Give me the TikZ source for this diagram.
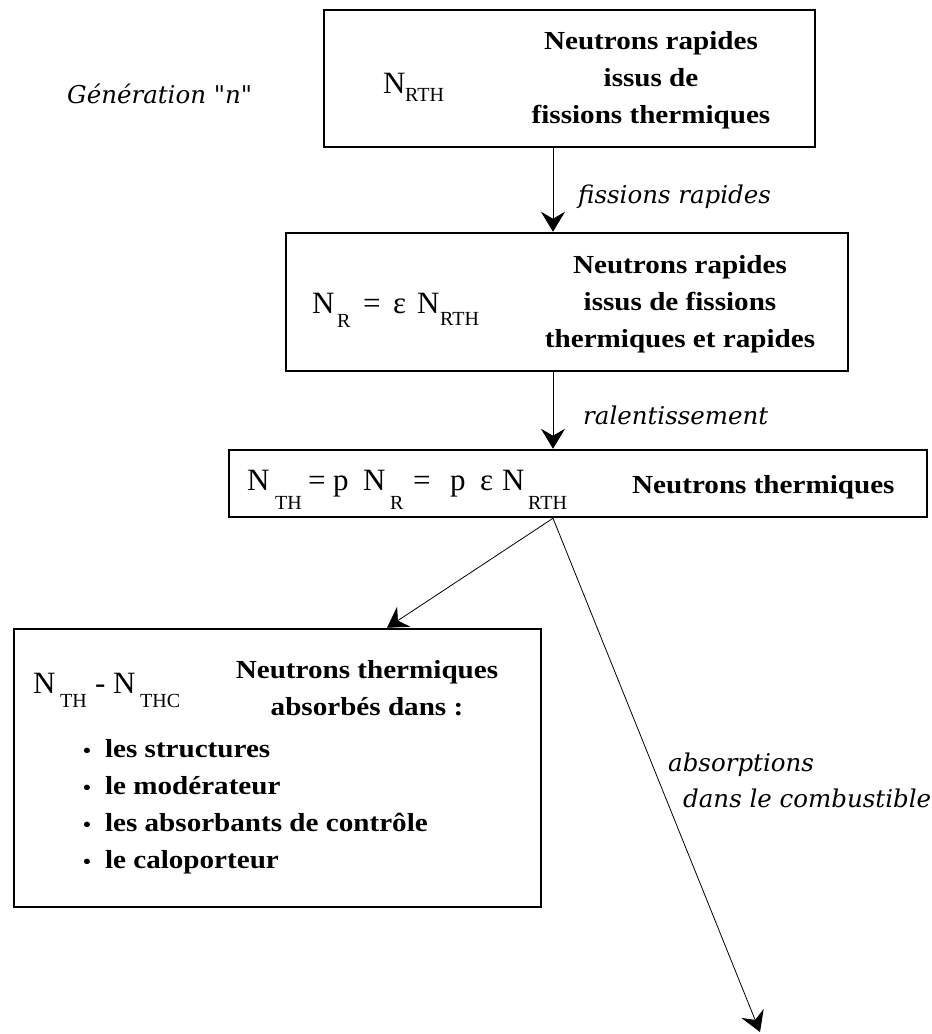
\documentclass[tikz,border=0pt]{standalone}
\usepackage{fontspec}
\setmainfont{Liberation Serif}
\newfontfamily\boxf[FakeStretch=1.12]{Liberation Serif}
\newfontfamily\labf{DejaVu Serif}
\usetikzlibrary{arrows.meta}
\newcommand\pc[2]{\rlap{\hspace*{#1pt}#2}}
\newcommand\subx[2]{\raisebox{-#1pt}{\fontsize{20}{20}\selectfont #2}}
\newcommand\bul{{\fontsize{20}{20}\selectfont\textbullet}\hspace*{14pt}}
\tikzset{
  box/.style={draw, line width=2.5pt, rectangle, inner sep=0pt},
  desc/.style={inner sep=0pt, font=\boxf\bfseries\fontsize{26}{37}\selectfont},
  formula/.style={inner sep=0pt, anchor=base west, font=\fontsize{31}{31}\selectfont},
  lab/.style={inner sep=0pt, anchor=base west, font=\labf\itshape\fontsize{24.5}{24.5}\selectfont},
  arr/.style={line width=0.8pt, -{Stealth[length=20pt,width=24pt,inset=7pt]}}
}
\begin{document}
\begin{tikzpicture}[x=1pt,y=-1pt]
\fill[white] (0,0) rectangle (932,1034);
\useasboundingbox (0,0) rectangle (932,1034);
% boxes
\node[box, minimum width=491pt, minimum height=137pt] (b1) at (569.5,78.5) {};
\node[box, minimum width=562pt, minimum height=138pt] (b2) at (567,302) {};
\node[box, minimum width=698pt, minimum height=67pt] (b3) at (578,483.5) {};
\node[box, minimum width=527pt, minimum height=278pt] (b4) at (277.5,768) {};
% texts box 1
\node[lab] (gen) at (67,103) {Génération "n"};
\node[formula] (f1) at (383,93) {\pc{0}{N}\pc{22}{\subx{8}{RTH}}\hspace*{67pt}};
\node[desc, align=center] (t1) at (651,80) {Neutrons rapides\\issus de\\fissions thermiques};
% box 2
\node[formula] (f2) at (312,313) {\pc{0}{N}\pc{25}{\subx{14}{R}}\pc{51}{=}\pc{81}{ε}\pc{105}{N}\pc{128}{\subx{12}{RTH}}\hspace*{171pt}};
\node[desc, align=center] (t2) at (680,304.5) {Neutrons rapides\\issus de fissions\\thermiques et rapides};
% box 3
\node[formula] (f3) at (247,490) {\pc{0}{N}\pc{28}{\subx{19}{TH}}\pc{61}{=}\pc{86}{p}\pc{116}{N}\pc{143}{\subx{19}{R}}\pc{166}{=}\pc{203}{p}\pc{233}{ε}\pc{255}{N}\pc{281}{\subx{19}{RTH}}\hspace*{322pt}};
\node[desc, anchor=base west] (t3) at (632,493) {Neutrons thermiques};
% box 4
\node[formula] (f4) at (33,693) {\pc{0}{N}\pc{27}{\subx{14}{TH}}\pc{62}{-}\pc{80}{N}\pc{107}{\subx{14}{THC}}\hspace*{147pt}};
\node[desc, align=center] (t4) at (367,688) {Neutrons thermiques\\absorbés dans :};
\node[desc, align=left, anchor=north west] (list) at (83,739.5) {\bul les structures\\\bul le modérateur\\\bul les absorbants de contrôle\\\bul le caloporteur};
% arrows
\coordinate (cx) at (553,0);
\coordinate (cl) at (387,0);
\coordinate (src) at (cx |- b3.south);
\coordinate (fuel) at (760,1032);
\draw[arr] (cx |- b1.south) -- (cx |- b2.north);
\node[lab] (lab1) at (578,203) {fissions rapides};
\draw[arr] (cx |- b2.south) -- (cx |- b3.north);
\node[lab] (lab2) at (583,424) {ralentissement};
\draw[arr] (src) -- (cl |- b4.north);
\draw[arr] (src) -- (fuel);
\node[lab] (lab3) at (668,771) {absorptions};
\node[lab] (lab4) at (683,807) {dans le combustible};
\end{tikzpicture}
\end{document}
